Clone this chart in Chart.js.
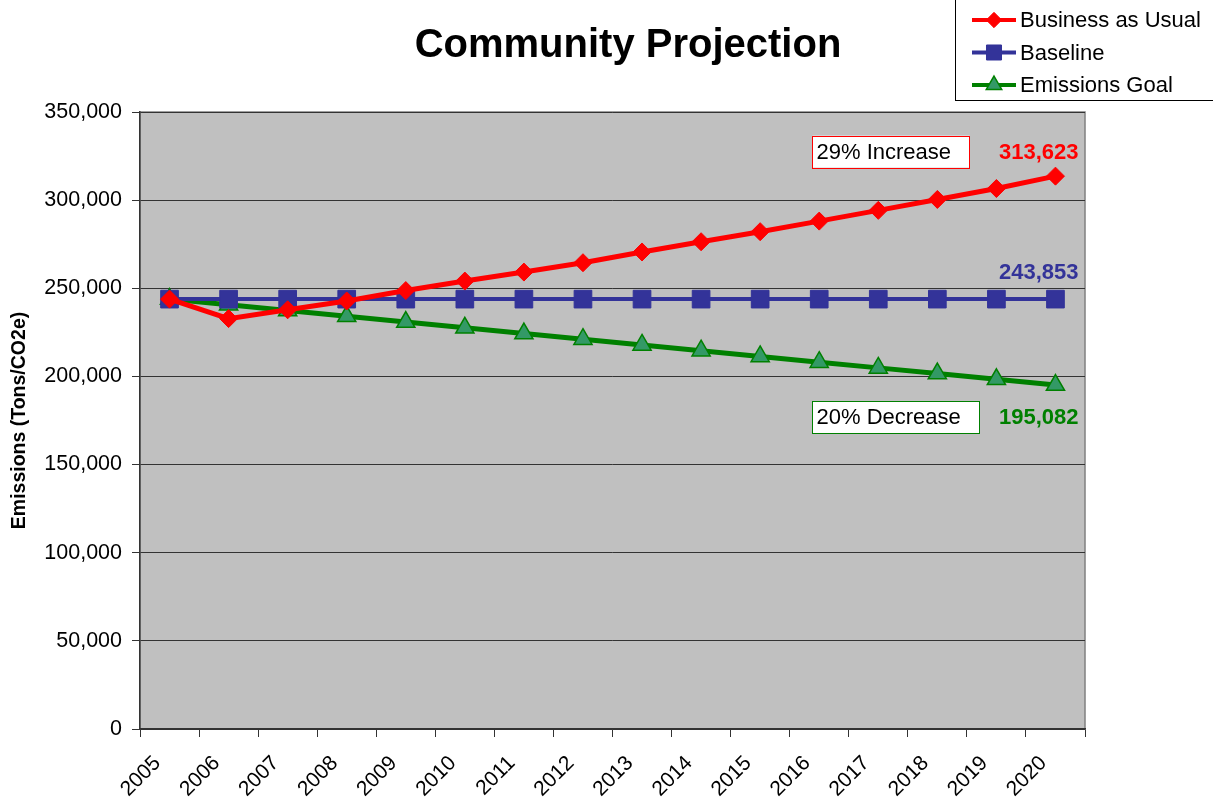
<!DOCTYPE html>
<html>
<head>
<meta charset="utf-8">
<script src="https://cdn.jsdelivr.net/npm/chart.js@4.4.0/dist/chart.umd.min.js"></script>
<style>
  body { margin: 0; background: #fff; }
  #wrap { width: 1213px; height: 803px; }
</style>
</head>
<body>
<div id="wrap"><canvas id="projection" width="1213" height="803"></canvas></div>
<script>
"use strict";

// data
let years = ["2005", "2006", "2007", "2008", "2009", "2010", "2011", "2012",
             "2013", "2014", "2015", "2016", "2017", "2018", "2019", "2020"];
let businessAsUsual = [243853, 232800, 237800, 242800, 248700, 254100, 259200, 264500,
                       270600, 276400, 282100, 288100, 294200, 300400, 306600, 313623];
let baseline = [243853, 243853, 243853, 243853, 243853, 243853, 243853, 243853,
                243853, 243853, 243853, 243853, 243853, 243853, 243853, 243853];
let emissionsGoal = [243853, 240600, 237350, 234100, 230850, 227600, 224350, 221100,
                     217850, 214600, 211350, 208100, 204850, 201600, 198350, 195082];
let seriesNames = ["Business as Usual", "Baseline", "Emissions Goal"];
let endLabels = ["313,623", "243,853", "195,082"];
let noteTexts = ["29% Increase", "20% Decrease"];

const FONT = 'Arial, "Liberation Sans", sans-serif';
Chart.defaults.font.family = FONT;
Chart.defaults.color = "#000";

// gray plot area + frame
let plotBackground = {
  id: "plotBackground",
  beforeDraw(chart) {
    let ctx = chart.ctx;
    let a = chart.chartArea;
    ctx.save();
    ctx.fillStyle = "#fff";
    ctx.fillRect(0, 0, chart.width, chart.height);
    ctx.fillStyle = "#C0C0C0";
    ctx.fillRect(a.left, a.top, a.right - a.left, a.bottom - a.top);
    ctx.strokeStyle = "#808080";
    ctx.lineWidth = 1.5;
    ctx.strokeRect(a.left, a.top, a.right - a.left, a.bottom - a.top);
    ctx.restore();
  }
};

// title, legend box, end value labels and the two notes
let extras = {
  id: "extras",
  afterDraw(chart) {
    let ctx = chart.ctx;
    let x = chart.scales.x;
    let y = chart.scales.y;
    ctx.save();

    // title
    ctx.font = "bold 40px " + FONT;
    ctx.fillStyle = "#000";
    ctx.textAlign = "center";
    ctx.textBaseline = "middle";
    ctx.fillText("Community Projection", 628, 46);

    // legend
    ctx.strokeStyle = "#000";
    ctx.lineWidth = 1;
    ctx.strokeRect(955.5, -1, 262, 101.5);
    ctx.font = "22px " + FONT;
    ctx.textAlign = "left";
    seriesNames.forEach((name, i) => {
      let ds = chart.data.datasets[i];
      let rowY = 20 + i * 32.5;
      ctx.strokeStyle = ds.borderColor;
      ctx.lineWidth = 4;
      ctx.beginPath();
      ctx.moveTo(972, rowY);
      ctx.lineTo(1016, rowY);
      ctx.stroke();
      ctx.fillStyle = ds.pointBackgroundColor;
      ctx.strokeStyle = ds.pointBorderColor;
      ctx.lineWidth = ds.pointBorderWidth;
      Chart.helpers.drawPoint(ctx, {
        pointStyle: ds.pointStyle,
        radius: ds.pointRadius * 0.85,
        borderWidth: ds.pointBorderWidth
      }, 994, rowY);
      ctx.fillStyle = "#000";
      ctx.fillText(name, 1020, rowY + 1);
    });

    // value labels at the last point of each series
    let last = years.length - 1;
    let offsets = [-23, -26, 33];
    ctx.font = "bold 22px " + FONT;
    ctx.textAlign = "right";
    endLabels.forEach((txt, i) => {
      let pt = chart.getDatasetMeta(i).data[last];
      ctx.fillStyle = chart.data.datasets[i].labelColor;
      ctx.fillText(txt, pt.x + 23, pt.y + offsets[i]);
    });

    // note boxes
    let notes = [
      { text: noteTexts[0], cat: 11, value: 327500, w: 157, color: "#FF0000" },
      { text: noteTexts[1], cat: 11, value: 177000, w: 167, color: "#008000" }
    ];
    ctx.font = "22px " + FONT;
    ctx.textAlign = "left";
    for (let n of notes) {
      let left = Math.round(x.getPixelForValue(n.cat)) - 6.5;
      let cy = y.getPixelForValue(n.value);
      ctx.fillStyle = "#fff";
      ctx.fillRect(left, cy - 16, n.w, 32);
      ctx.strokeStyle = n.color;
      ctx.lineWidth = 1;
      ctx.strokeRect(left, Math.round(cy - 16) + 0.5, n.w, 32);
      ctx.fillStyle = "#000";
      ctx.fillText(n.text, left + 4, cy + 1);
    }
    ctx.restore();
  }
};

let chart = new Chart(document.querySelector("#projection"), {
  type: "line",
  data: {
    labels: years,
    datasets: [{
      label: seriesNames[0],
      data: businessAsUsual,
      borderColor: "#FF0000",
      borderWidth: 5,
      pointStyle: "rectRot",
      pointRadius: 9,
      pointBackgroundColor: "#FF0000",
      pointBorderColor: "#FF0000",
      pointBorderWidth: 1,
      labelColor: "#FF0000"
    }, {
      label: seriesNames[1],
      data: baseline,
      borderColor: "#333399",
      borderWidth: 4,
      pointStyle: "rect",
      pointRadius: 12.5,
      pointBackgroundColor: "#333399",
      pointBorderColor: "#333399",
      pointBorderWidth: 1,
      labelColor: "#333399"
    }, {
      label: seriesNames[2],
      data: emissionsGoal,
      borderColor: "#008000",
      borderWidth: 5,
      pointStyle: "triangle",
      pointRadius: 10.5,
      pointBackgroundColor: "#339966",
      pointBorderColor: "#008000",
      pointBorderWidth: 1.5,
      labelColor: "#008000"
    }]
  },
  options: {
    responsive: false,
    animation: false,
    layout: { padding: { top: 112, right: 128, left: 0, bottom: 0 } },
    plugins: {
      legend: { display: false },
      title: { display: false },
      tooltip: { enabled: false }
    },
    elements: { line: { tension: 0 } },
    scales: {
      x: {
        offset: true,
        grid: { offset: true, drawOnChartArea: false, tickLength: 8, color: "#333", lineWidth: 1 },
        border: { color: "#333", width: 1.5 },
        ticks: { minRotation: 45, maxRotation: 45, font: { size: 21 }, color: "#000", labelOffset: -12, padding: 14 },
        afterFit: scale => { scale.height = 74; }
      },
      y: {
        min: 0,
        max: 350000,
        grid: { color: "#333", lineWidth: 1, tickLength: 8, tickColor: "#333" },
        border: { color: "#333", width: 1.5 },
        ticks: {
          stepSize: 50000,
          font: { size: 21.5 },
          color: "#000",
          padding: 10,
          callback: v => v.toLocaleString("en-US")
        },
        title: {
          display: true,
          text: "Emissions (Tons/CO2e)",
          font: { size: 19.5, weight: "bold" },
          color: "#000",
          padding: { top: 8, bottom: 4 }
        },
        afterFit: scale => { scale.width = 140; }
      }
    }
  },
  plugins: [plotBackground, extras]
});
</script>
</body>
</html>
